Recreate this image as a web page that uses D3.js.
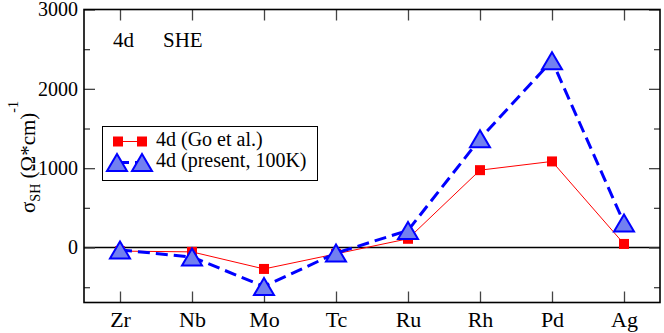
<!DOCTYPE html>
<html>
<head>
<meta charset="utf-8">
<script src="https://cdn.jsdelivr.net/npm/d3@7"></script>
<style>
  body { margin: 0; background: #fff; }
  svg { display: block; font-family: "Liberation Serif", "Times New Roman", serif; }
</style>
</head>
<body>
<script>
const categories = ['Zr', 'Nb', 'Mo', 'Tc', 'Ru', 'Rh', 'Pd', 'Ag'];
const goValues = [-45, -55, -270, -80, 110, 975, 1085, 45];
const presentValues = [-30, -120, -490, -70, 215, 1370, 2355, 310];
const yMajorTicks = [0, 1000, 2000, 3000];
const yMinorTicks = [-500, 500, 1500, 2500];
const seriesNames = ['4d (Go et al.)', '4d (present, 100K)'];

const width = 664, height = 333;
const plot = {left: 84, right: 660, top: 9.5, bottom: 302.5};

const svg = d3.select('body').append('svg')
  .attr('width', width)
  .attr('height', height);

const x = d3.scalePoint()
  .domain(categories)
  .range([plot.left, plot.right])
  .padding(0.5);

const y = d3.scaleLinear()
  .domain([-693, 3000])
  .range([plot.bottom, plot.top]);

// zero line
svg.append('line')
  .attr('x1', plot.left).attr('x2', plot.right)
  .attr('y1', y(0)).attr('y2', y(0))
  .attr('stroke', '#000').attr('stroke-width', 1.3);

// axes (ticks point inward)
const styleAxis = (g, size) => {
  g.attr('font-family', null).attr('font-size', size || null);
  g.select('.domain').remove();
  g.selectAll('.tick line').attr('stroke', '#444').attr('stroke-width', 1.3);
  g.selectAll('text').attr('fill', '#000');
};

svg.append('g')
  .attr('transform', `translate(0,${plot.bottom})`)
  .call(d3.axisBottom(x).tickSizeInner(-11).tickSizeOuter(0).tickPadding(9))
  .call(styleAxis, 22);

svg.append('g')
  .attr('transform', `translate(0,${plot.top})`)
  .call(d3.axisTop(x).tickSizeInner(-11).tickSizeOuter(0).tickFormat(''))
  .call(styleAxis);

svg.append('g')
  .attr('transform', `translate(${plot.left},0)`)
  .call(d3.axisLeft(y).tickValues(yMajorTicks).tickFormat(d3.format('d'))
    .tickSizeInner(-11).tickSizeOuter(0).tickPadding(6))
  .call(styleAxis, 20);

svg.append('g')
  .attr('transform', `translate(${plot.left},0)`)
  .call(d3.axisLeft(y).tickValues(yMinorTicks).tickSizeInner(-6).tickSizeOuter(0).tickFormat(''))
  .call(styleAxis);

svg.append('g')
  .attr('transform', `translate(${plot.right},0)`)
  .call(d3.axisRight(y).tickValues(yMajorTicks).tickSizeInner(-11).tickSizeOuter(0).tickFormat(''))
  .call(styleAxis);

svg.append('g')
  .attr('transform', `translate(${plot.right},0)`)
  .call(d3.axisRight(y).tickValues(yMinorTicks).tickSizeInner(-6).tickSizeOuter(0).tickFormat(''))
  .call(styleAxis);

// frame
svg.append('rect')
  .attr('x', plot.left).attr('y', plot.top)
  .attr('width', plot.right - plot.left).attr('height', plot.bottom - plot.top)
  .attr('fill', 'none').attr('stroke', '#000').attr('stroke-width', 1.6);

// series 1: Go et al.
const line = d3.line().x((d, i) => x(categories[i])).y(d => y(d));

svg.append('path')
  .datum(goValues)
  .attr('d', line)
  .attr('fill', 'none').attr('stroke', '#ff0000').attr('stroke-width', 1);

svg.append('g').selectAll('rect')
  .data(goValues)
  .join('rect')
  .attr('x', (d, i) => x(categories[i]) - 5)
  .attr('y', d => y(d) - 5)
  .attr('width', 10).attr('height', 10)
  .attr('fill', '#ff0000');

// series 2: present
const triPath = 'M0,-8.5L10,8.5L-10,8.5Z';

svg.append('path')
  .datum(presentValues)
  .attr('d', line)
  .attr('fill', 'none').attr('stroke', '#0000ff').attr('stroke-width', 3)
  .attr('stroke-dasharray', '12,6');

svg.append('g').selectAll('path')
  .data(presentValues)
  .join('path')
  .attr('transform', (d, i) => `translate(${x(categories[i])},${y(d)})`)
  .attr('d', triPath)
  .attr('fill', '#7280f0').attr('stroke', '#0000ff').attr('stroke-width', 2);

// title
svg.append('text').attr('x', 113).attr('y', 47).attr('font-size', 21).text('4d');
svg.append('text').attr('x', 163).attr('y', 47).attr('font-size', 21).text('SHE');

// y label
const ylab = svg.append('text')
  .attr('transform', 'translate(35,157) rotate(-90)')
  .attr('text-anchor', 'middle')
  .attr('font-size', 21);
ylab.append('tspan').text('σ');
ylab.append('tspan').attr('font-size', 14).attr('dy', 5).text('SH');
ylab.append('tspan').attr('dy', -5).text(' (Ω*cm)');
ylab.append('tspan').attr('font-size', 14).attr('dy', -17).text('-1');

// legend
const legend = svg.append('g');
legend.append('rect')
  .attr('x', 102.5).attr('y', 126.5).attr('width', 215).attr('height', 54)
  .attr('fill', '#fff').attr('stroke', '#000').attr('stroke-width', 1);

legend.append('line')
  .attr('x1', 118).attr('x2', 142).attr('y1', 141.5).attr('y2', 141.5)
  .attr('stroke', '#ff0000').attr('stroke-width', 1);
legend.selectAll('rect.sq')
  .data([118, 142])
  .join('rect').attr('class', 'sq')
  .attr('x', d => d - 5).attr('y', 136.5).attr('width', 10).attr('height', 10)
  .attr('fill', '#ff0000');

legend.append('line')
  .attr('x1', 117).attr('x2', 142).attr('y1', 162.5).attr('y2', 162.5)
  .attr('stroke', '#0000ff').attr('stroke-width', 3).attr('stroke-dasharray', '12,6');
legend.selectAll('path.tri')
  .data([117, 142])
  .join('path').attr('class', 'tri')
  .attr('transform', d => `translate(${d},162.5)`)
  .attr('d', triPath)
  .attr('fill', '#7280f0').attr('stroke', '#0000ff').attr('stroke-width', 2);

legend.selectAll('text')
  .data(seriesNames)
  .join('text')
  .attr('x', 156).attr('y', (d, i) => 146 + i * 20.5)
  .attr('font-size', 20)
  .text(d => d);
</script>
</body>
</html>
